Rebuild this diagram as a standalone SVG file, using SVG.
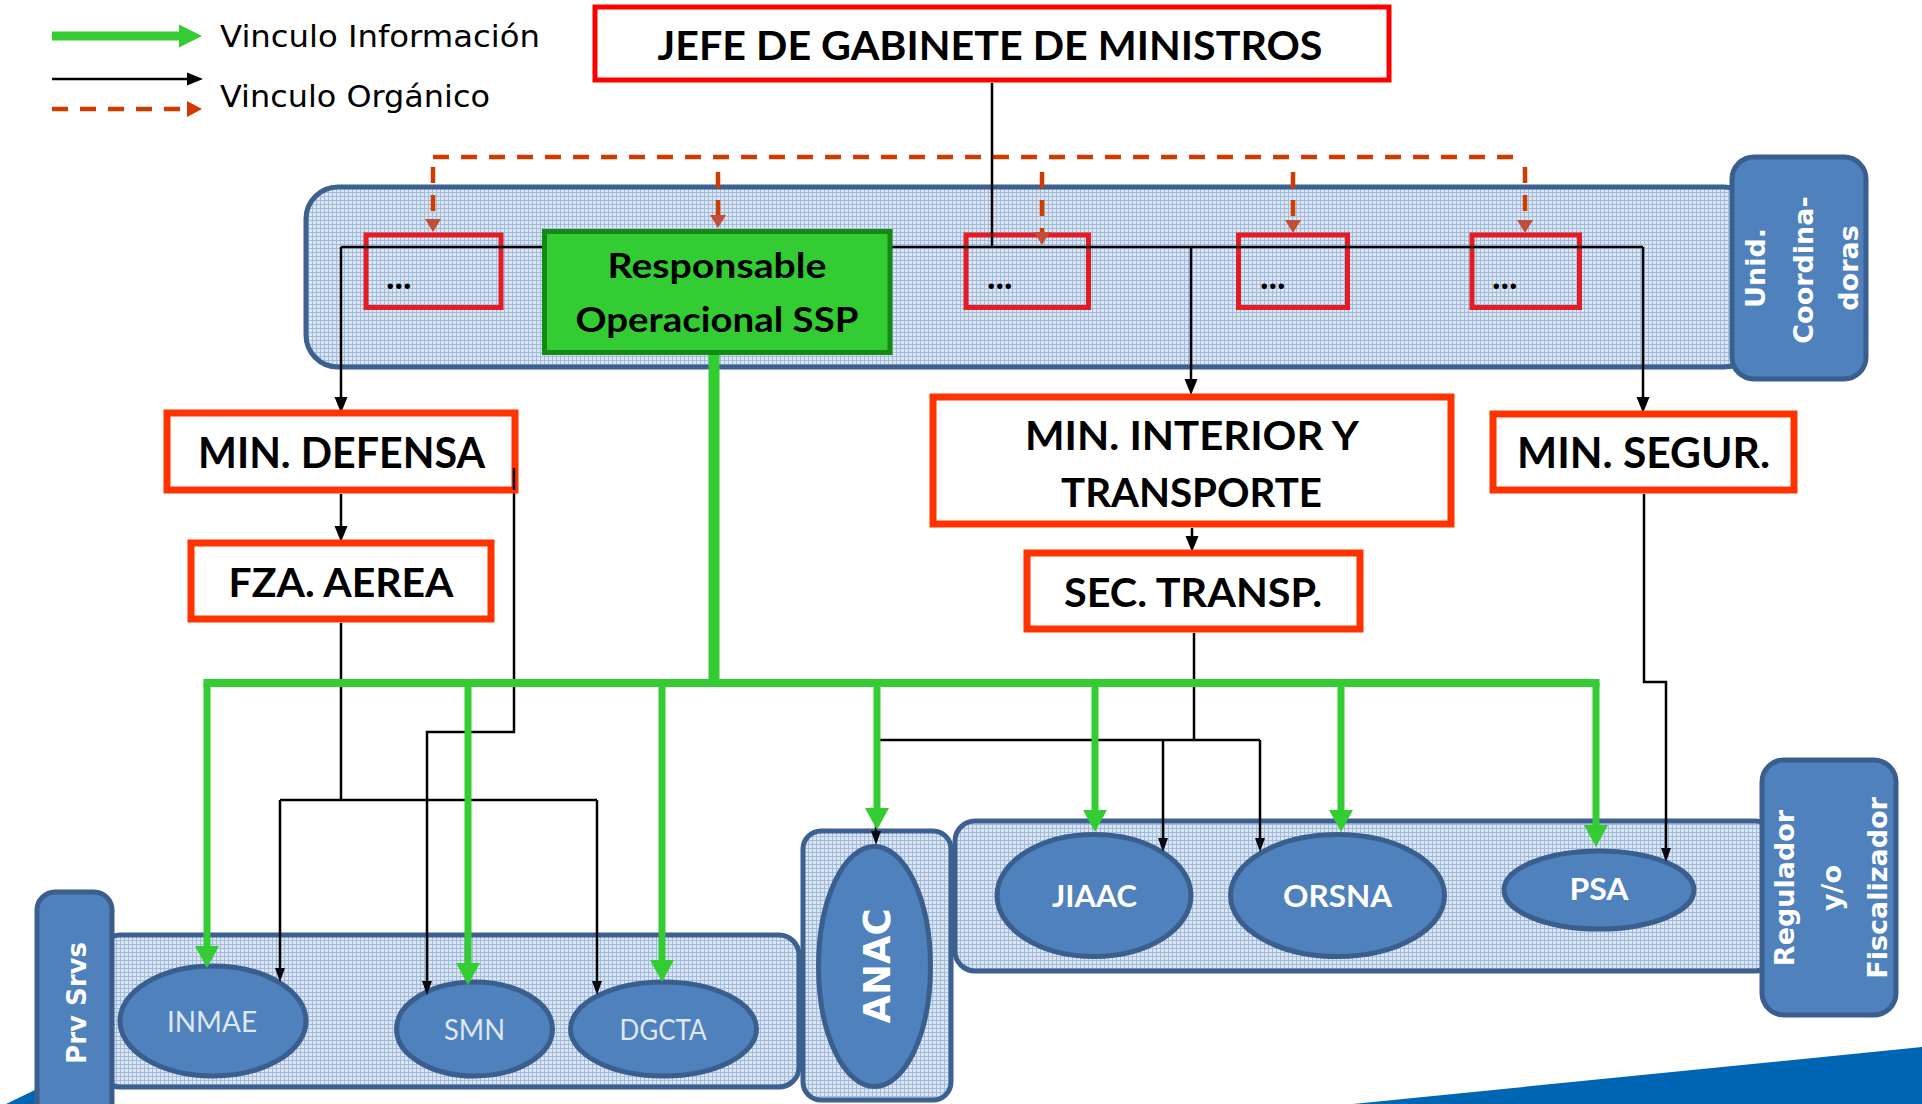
<svg xmlns="http://www.w3.org/2000/svg" width="1922" height="1104" viewBox="0 0 1922 1104">
<defs>
<pattern id="hatch" width="4" height="4" patternUnits="userSpaceOnUse"><rect width="4" height="4" fill="#dce6f2"/><path d="M0 0.5H4M0.5 0V4" stroke="#a3bbdb" stroke-width="1"/></pattern>
<marker id="hg" markerUnits="userSpaceOnUse" markerWidth="22" markerHeight="24" refX="0" refY="12" orient="auto" overflow="visible"><path d="M0,0 L22,12 L0,24 Z" fill="#33cc33"/></marker>
<marker id="hgl" markerUnits="userSpaceOnUse" markerWidth="23" markerHeight="23" refX="0" refY="11.5" orient="auto" overflow="visible"><path d="M0,0 L23,11.5 L0,23 Z" fill="#33cc33"/></marker>
<marker id="hb" markerUnits="userSpaceOnUse" markerWidth="16" markerHeight="13" refX="0" refY="6.5" orient="auto" overflow="visible"><path d="M0,0 L16,6.5 L0,13 Z" fill="#000"/></marker>
<marker id="hs" markerUnits="userSpaceOnUse" markerWidth="14" markerHeight="10" refX="0" refY="5" orient="auto" overflow="visible"><path d="M0,0 L14,5 L0,10 Z" fill="#0a0a14"/></marker>
<marker id="hd" markerUnits="userSpaceOnUse" markerWidth="13" markerHeight="16" refX="0" refY="8" orient="auto" overflow="visible"><path d="M0,0 L13,8 L0,16 Z" fill="#c0503a"/></marker>
<marker id="hdl" markerUnits="userSpaceOnUse" markerWidth="15" markerHeight="16" refX="0" refY="8" orient="auto" overflow="visible"><path d="M0,0 L15,8 L0,16 Z" fill="#d03c00"/></marker>
</defs>
<style>
.cont{fill:url(#hatch);stroke:#3c6090;stroke-width:5}
.blue{fill:#4f81bd;stroke:#3a5f8f;stroke-width:5}
.rb{fill:#fff;stroke:#ff3300;stroke-width:7}
.dots{fill:none;stroke:#e31c24;stroke-width:5}
.lbl{font-family:Lato,'Open Sans','DejaVu Sans',sans-serif;font-weight:700;fill:#000;text-anchor:middle}
.rot{font-family:'DejaVu Sans',Verdana,sans-serif;font-weight:700;fill:#fff;font-size:27px;text-anchor:middle}
.el{font-family:Lato,'Open Sans','DejaVu Sans',sans-serif;text-anchor:middle}
.leg{font-family:'DejaVu Sans',Verdana,sans-serif;font-size:31px;fill:#000}
.org{stroke:#000;stroke-width:2.5;fill:none}
.info{stroke:#33cc33;fill:none}
.dash{stroke:#d03c00;stroke-width:4.5;stroke-dasharray:16 12;fill:none}
</style>
<rect width="1922" height="1104" fill="#fff"/>
<g id="band">
<polygon points="1353,1104 1922,1047 1922,1104" fill="#0066b3"/>
<polygon points="6,1104 37,1089 37,1104" fill="#0066b3"/>
</g>
<g id="legend">
<path d="M52,36 H179" stroke="#33cc33" stroke-width="9" marker-end="url(#hgl)"/>
<path d="M52,79 H187" stroke="#000" stroke-width="2.5" marker-end="url(#hb)"/>
<path d="M52,109 H187" class="dash" marker-end="url(#hdl)"/>
<text class="leg" x="220" y="47" textLength="320" lengthAdjust="spacingAndGlyphs">Vinculo Información</text>
<text class="leg" x="220" y="107" textLength="270" lengthAdjust="spacingAndGlyphs">Vinculo Orgánico</text>
</g>
<g id="unid-coordinadoras">
<rect class="cont" x="306" y="187" width="1450" height="180" rx="32"/>
<rect class="blue" x="1732" y="157" width="134" height="222" rx="22"/>
<text class="rot" transform="translate(1765,268) rotate(-90)">Unid.</text>
<text class="rot" transform="translate(1813,270) rotate(-90)">Coordina-</text>
<text class="rot" transform="translate(1858,268) rotate(-90)">doras</text>
</g>
<g id="prv-srvs">
<rect class="cont" x="100" y="935" width="699" height="152" rx="20"/>
<rect class="blue" x="37" y="892" width="75" height="240" rx="18"/>
<text class="rot" style="font-size:26px" transform="translate(86,1003) rotate(-90)">Prv Srvs</text>
</g>
<g id="anac-group">
<rect class="cont" x="803" y="831" width="148" height="269" rx="18"/>
</g>
<g id="regulador">
<rect class="cont" x="955" y="821" width="820" height="150" rx="20"/>
<rect class="blue" x="1762" y="760" width="134" height="255" rx="22"/>
<text class="rot" transform="translate(1794,888) rotate(-90)">Regulador</text>
<text class="rot" transform="translate(1841,888) rotate(-90)">y/o</text>
<text class="rot" transform="translate(1887,888) rotate(-90)">Fiscalizador</text>
</g>
<g id="dots1"><rect class="dots" x="366" y="235" width="135" height="72.5"/><text class="lbl" x="386" y="289" style="font-size:36px;text-anchor:start">...</text></g>
<g id="dots3"><rect class="dots" x="966" y="235" width="122.5" height="72.5"/><text class="lbl" x="987" y="289" style="font-size:36px;text-anchor:start">...</text></g>
<g id="dots4"><rect class="dots" x="1238.5" y="235" width="109" height="72.5"/><text class="lbl" x="1260" y="289" style="font-size:36px;text-anchor:start">...</text></g>
<g id="dots5"><rect class="dots" x="1472" y="235" width="107.5" height="72.5"/><text class="lbl" x="1492" y="289" style="font-size:36px;text-anchor:start">...</text></g>
<g id="ellipses">
<g id="inmae"><ellipse class="blue" cx="213" cy="1021" rx="93" ry="55"/><text class="el" x="212" y="1032" style="font-size:28px;fill:#dfe7f3" textLength="90" lengthAdjust="spacingAndGlyphs">INMAE</text></g>
<g id="smn"><ellipse class="blue" cx="474.5" cy="1029" rx="78" ry="47"/><text class="el" x="474.5" y="1040" style="font-size:28px;fill:#dfe7f3" textLength="61" lengthAdjust="spacingAndGlyphs">SMN</text></g>
<g id="dgcta"><ellipse class="blue" cx="663.5" cy="1029" rx="93" ry="47"/><text class="el" x="663" y="1040" style="font-size:28px;fill:#dfe7f3" textLength="87" lengthAdjust="spacingAndGlyphs">DGCTA</text></g>
<g id="anac"><ellipse class="blue" cx="874.5" cy="966.5" rx="56" ry="120"/><text class="rot" style="font-size:38px" transform="translate(890,966) rotate(-90)" textLength="115" lengthAdjust="spacingAndGlyphs">ANAC</text></g>
<g id="jiaac"><ellipse class="blue" cx="1094" cy="895.5" rx="97" ry="61"/><text class="el" x="1094.5" y="907" style="font-size:31px;font-weight:700;fill:#fff" textLength="85" lengthAdjust="spacingAndGlyphs">JIAAC</text></g>
<g id="orsna"><ellipse class="blue" cx="1337.5" cy="895.5" rx="107" ry="61"/><text class="el" x="1337.5" y="907" style="font-size:31px;font-weight:700;fill:#fff" textLength="109" lengthAdjust="spacingAndGlyphs">ORSNA</text></g>
<g id="psa"><ellipse class="blue" cx="1599" cy="890" rx="95" ry="39"/><text class="el" x="1599" y="900" style="font-size:31px;font-weight:700;fill:#fff" textLength="59" lengthAdjust="spacingAndGlyphs">PSA</text></g>
</g>
<g id="connectors">
<path class="dash" d="M433,157 H1525"/>
<path class="dash" d="M433,167 V219" marker-end="url(#hd)"/>
<path class="dash" d="M718,172 V215" marker-end="url(#hd)"/>
<path class="dash" d="M1042,172 V232" marker-end="url(#hd)"/>
<path class="dash" d="M1293,172 V220" marker-end="url(#hd)"/>
<path class="dash" d="M1525,167 V220" marker-end="url(#hd)"/>
<path class="org" d="M992,83 V247"/>
<path class="org" d="M341,247 H542 M892,247 H1643"/>
<path class="org" d="M341,247 V397" marker-end="url(#hb)"/>
<path class="org" d="M1191,247 V379" marker-end="url(#hb)"/>
<path class="org" d="M1643,247 V397" marker-end="url(#hb)"/>
<path class="org" d="M341,494 V526" marker-end="url(#hb)"/>
<path class="org" d="M1192,528 V536" marker-end="url(#hb)"/>
<path class="org" d="M341,623 V800 M280,800 H597"/>
<path class="org" d="M280,800 V968" marker-end="url(#hs)"/>
<path class="org" d="M597,800 V981" marker-end="url(#hs)"/>
<path class="org" d="M514,468 V732 H427 V981" marker-end="url(#hs)"/>
<path class="org" d="M1194,633 V740 M876,740 H1260"/>
<path class="org" d="M876,740 V831" marker-end="url(#hs)"/>
<path class="org" d="M1163,740 V838" marker-end="url(#hs)"/>
<path class="org" d="M1260,740 V838" marker-end="url(#hs)"/>
<path class="org" d="M1644,494 V682 H1666 V848" marker-end="url(#hs)"/>
<path class="info" stroke-width="11" d="M714,355 V687"/>
<path class="info" stroke-width="8" d="M203.5,683 H1599.5"/>
<path class="info" stroke-width="7" d="M207,683 V946" marker-end="url(#hg)"/>
<path class="info" stroke-width="7" d="M468,683 V963" marker-end="url(#hg)"/>
<path class="info" stroke-width="7" d="M662,683 V960" marker-end="url(#hg)"/>
<path class="info" stroke-width="7" d="M877,683 V808" marker-end="url(#hg)"/>
<path class="info" stroke-width="7" d="M1095,683 V810" marker-end="url(#hg)"/>
<path class="info" stroke-width="7" d="M1341,683 V810" marker-end="url(#hg)"/>
<path class="info" stroke-width="7" d="M1596,683 V825" marker-end="url(#hg)"/>
</g>
<g id="jefe"><rect x="595" y="7" width="794" height="73" fill="#fff" stroke="#ff0000" stroke-width="5"/><text class="lbl" x="990" y="60" style="font-size:40px" textLength="665" lengthAdjust="spacingAndGlyphs">JEFE DE GABINETE DE MINISTROS</text></g>
<g id="responsable"><rect x="544.5" y="231.5" width="345.5" height="121" fill="#33cc33" stroke="#148a14" stroke-width="5"/><text class="lbl" x="717" y="278" style="font-size:35px" textLength="219" lengthAdjust="spacingAndGlyphs">Responsable</text><text class="lbl" x="717" y="332" style="font-size:35px" textLength="283" lengthAdjust="spacingAndGlyphs">Operacional SSP</text></g>
<g id="min-defensa"><rect class="rb" x="167" y="413" width="348" height="77"/><text class="lbl" x="341.5" y="468" style="font-size:42px" textLength="287" lengthAdjust="spacingAndGlyphs">MIN. DEFENSA</text></g>
<g id="fza-aerea"><rect class="rb" x="191" y="543" width="300" height="76"/><text class="lbl" x="341" y="597" style="font-size:41px" textLength="225" lengthAdjust="spacingAndGlyphs">FZA. AEREA</text></g>
<g id="min-interior"><rect class="rb" x="933" y="397" width="518" height="127"/><text class="lbl" x="1192" y="450" style="font-size:40px" textLength="334" lengthAdjust="spacingAndGlyphs">MIN. INTERIOR Y</text><text class="lbl" x="1191.5" y="507" style="font-size:40px" textLength="261" lengthAdjust="spacingAndGlyphs">TRANSPORTE</text></g>
<g id="sec-transp"><rect class="rb" x="1027" y="553" width="333" height="76"/><text class="lbl" x="1193" y="607" style="font-size:41px" textLength="258" lengthAdjust="spacingAndGlyphs">SEC. TRANSP.</text></g>
<g id="min-segur"><rect class="rb" x="1493" y="414" width="301" height="76"/><text class="lbl" x="1643.5" y="468" style="font-size:42px" textLength="253" lengthAdjust="spacingAndGlyphs">MIN. SEGUR.</text></g>
<path class="org" d="M514,468 V490"/>
</svg>
